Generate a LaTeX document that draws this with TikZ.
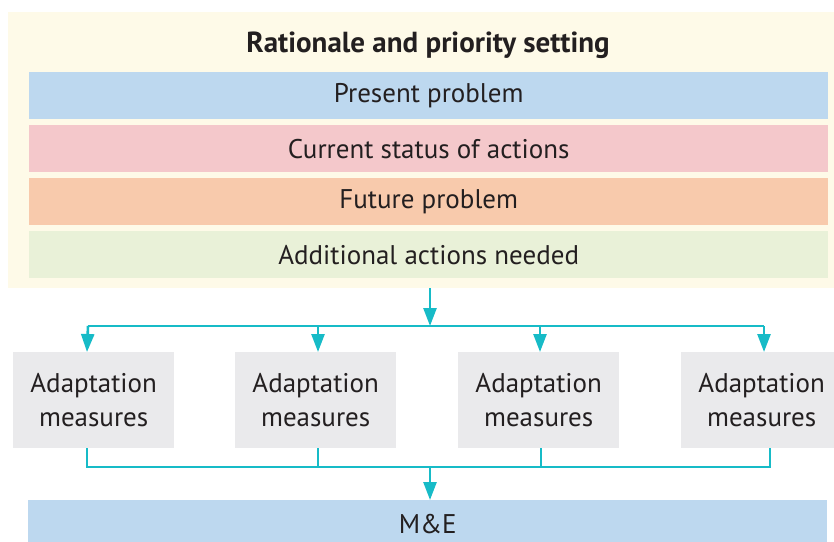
\documentclass[tikz,border=0pt]{standalone}
\usepackage{fontspec}
\setmainfont{PT Sans}
\usetikzlibrary{arrows.meta}
\definecolor{cream}{HTML}{FEFAE8}
\definecolor{bandblue}{HTML}{BDD8EF}
\definecolor{bandpink}{HTML}{F4C8CB}
\definecolor{bandorange}{HTML}{F8CAAC}
\definecolor{bandgreen}{HTML}{E9F1D8}
\definecolor{boxgray}{HTML}{EAEAEC}
\definecolor{teal}{HTML}{17BBC7}
\definecolor{ink}{HTML}{231F20}
\begin{document}
\begin{tikzpicture}[x=1pt,y=-1pt,
  band/.style={draw=none,anchor=north west,inner sep=0pt,minimum width=799pt,minimum height=47pt,text=ink,font=\fontsize{27}{30}\selectfont},
  measbox/.style={fill=boxgray,anchor=north west,inner sep=0pt,minimum width=161pt,minimum height=96pt,text=ink,align=center,font=\fontsize{27}{34}\selectfont},
  conn/.style={draw=teal,line width=2.6pt},
  arr/.style={conn,-{Triangle[length=18pt,width=13pt]}}
]
\useasboundingbox (0,0) rectangle (834,541);
\begin{scope}
\clip (0,0) rectangle (834,541);
% background panel
\node[fill=cream,anchor=north west,inner sep=0pt,minimum width=830pt,minimum height=276pt] (panel) at (8,12) {};
\node[text=ink,font=\fontsize{29}{32}\selectfont\bfseries] (title) at (428,45) {Rationale and priority setting};
\node[band,fill=bandblue] (b1) at (29,72) {Present problem};
\node[band,fill=bandpink] (b2) at (29,125) {Current status of actions};
\node[band,fill=bandorange] (b3) at (29,178) {Future problem};
\node[band,fill=bandgreen] (b4) at (29,231) {Additional actions needed};
% adaptation boxes
\node[measbox] (m1) at (13,352) {Adaptation\\measures};
\node[measbox] (m2) at (235,352) {Adaptation\\measures};
\node[measbox] (m3) at (458,352) {Adaptation\\measures};
\node[measbox] (m4) at (681,352) {Adaptation\\measures};
% M&E
\node[band,fill=bandblue,minimum height=48pt] (me) at (28,500) {M\&E};
% connectors
\coordinate (topsrc) at (430,288);
\coordinate (bus) at (430,326);
\coordinate (t1) at (88,326);
\coordinate (t2) at (318,326);
\coordinate (t3) at (540,326);
\coordinate (t4) at (764,326);
\coordinate (e1) at (87,352);
\coordinate (e2) at (318,352);
\coordinate (e3) at (540,352);
\coordinate (e4) at (764,352);
\draw[arr] (topsrc) -- (bus);
\draw[conn] (t1) -- (t4);
\draw[arr] (t1) -- (e1);
\draw[arr] (t2) -- (e2);
\draw[arr] (t3) -- (e3);
\draw[arr] (t4) -- (e4);
\coordinate (s1) at (87,448);
\coordinate (s2) at (318,448);
\coordinate (s3) at (541,448);
\coordinate (s4) at (770,448);
\coordinate (u1) at (87,467);
\coordinate (u2) at (318,467);
\coordinate (u3) at (541,467);
\coordinate (u4) at (770,467);
\coordinate (ubus) at (430,467);
\coordinate (meTop) at (430,500);
\draw[conn] (s1) -- (u1) -- (u4) -- (s4);
\draw[conn] (s2) -- (u2);
\draw[conn] (s3) -- (u3);
\draw[arr] (ubus) -- (meTop);
\end{scope}
\end{tikzpicture}
\end{document}
